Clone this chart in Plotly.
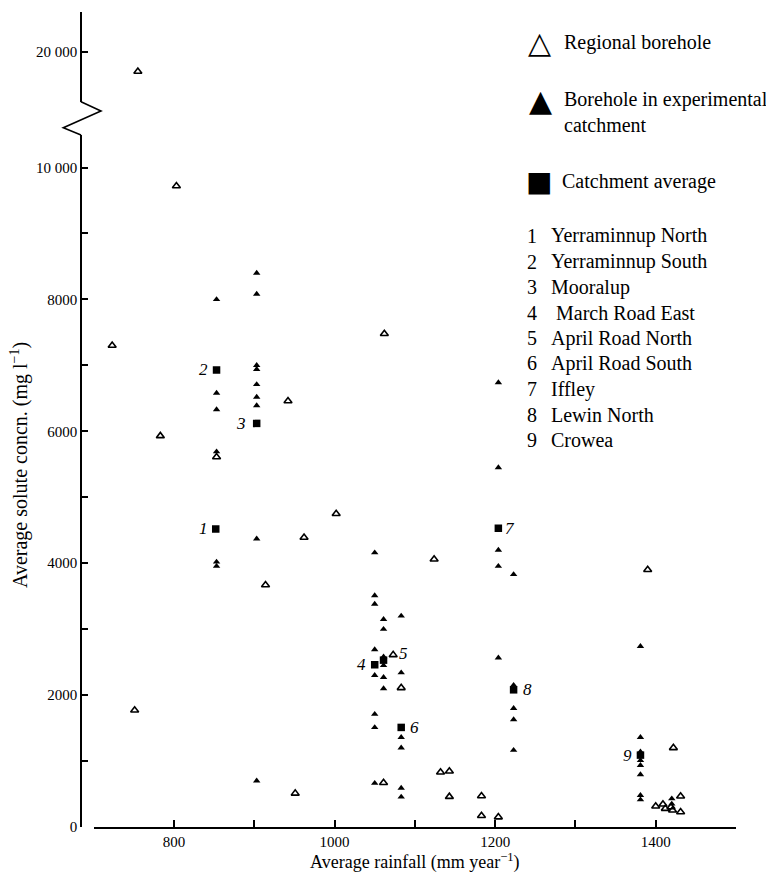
import plotly.graph_objects as go

# ---------------- data ----------------
regional_x = [755, 803, 723, 783, 853, 942, 1002, 962, 914, 751, 951, 1062, 1124,
              1073, 1083, 1061, 1132, 1143, 1143, 1183, 1183, 1204, 1390, 1422,
              1400, 1409, 1412, 1419, 1421, 1431, 1431]
regional_y = [19700, 9720, 7300, 5930, 5610, 6460, 4750, 4390, 3670, 1770, 510, 7480, 4060,
              2610, 2110, 670, 830, 845, 460, 470, 170, 150, 3900, 1200,
              314, 344, 279, 303, 253, 466, 228]

exp_x = [853, 853, 853, 853, 853, 853,
         903, 903, 903, 903, 903, 903, 903, 903, 903,
         1050, 1050, 1050, 1050, 1050, 1050, 1050, 1050,
         1061, 1061, 1061, 1061, 1061, 1061,
         1083, 1083, 1083, 1083, 1083, 1083,
         1204, 1204, 1204, 1204, 1204,
         1223, 1223, 1223, 1223, 1223,
         1381, 1381, 1381, 1381, 1381, 1381, 1381, 1381,
         1420, 1420]
exp_y = [8000, 6580, 6330, 5690, 4020, 3955,
         8400, 8080, 7000, 6940, 6710, 6520, 6390, 4370, 700,
         4160, 3510, 3380, 2690, 2300, 1710, 1510, 665,
         3150, 3000, 2580, 2450, 2270, 2100,
         3200, 2340, 1360, 1200, 590, 455,
         6740, 5450, 4200, 3955, 2565,
         3830, 2150, 1800, 1630, 1165,
         2740, 1360, 1140, 1010, 935, 795, 480, 415,
         430, 350]

avg_labels = ["1", "2", "3", "4", "5", "6", "7", "8", "9"]
avg_x = [852, 853, 903, 1050, 1061, 1083, 1204, 1223, 1381]
avg_y = [4520, 6930, 6120, 2460, 2530, 1510, 4530, 2080, 1090]

site_names = ["Yerraminnup North", "Yerraminnup South", "Mooralup", " March Road East",
              "April Road North", "April Road South", "Iffley", "Lewin North", "Crowea"]

x_tickvals = [700, 800, 900, 1000, 1100, 1200, 1300, 1400, 1500]
x_ticktext = ["", "800", "", "1000", "", "1200", "", "1400", ""]
y_tickvals = [0, 1000, 2000, 3000, 4000, 5000, 6000, 7000, 8000, 9000, 10000]
y_ticktext = ["0", "", "2000", "", "4000", "", "6000", "", "8000", "", "10 000"]
y2_tickvals = [20000]
y2_ticktext = ["20 000"]

BREAK = 15000

# ---------------- layout helpers ----------------
W, H = 774, 879
OFF = 8                      # page body margin of the browser
REF_L, REF_R, REF_T, REF_B = 81, 736, 12, 827   # plot box in the reference picture (px)
ML, MT = REF_L - OFF, REF_T - OFF
MR = W - (REF_R - OFF)
MB = H - (REF_B - OFF)
PW, PH = W - ML - MR, H - MT - MB


def px(x, y):
    """reference-picture pixel -> paper coordinates"""
    return (x - REF_L) / PW, (REF_B - y) / PH


FONT = "Liberation Serif, Times New Roman, serif"
BLACK = "#000000"

low_x = [x for x, y in zip(regional_x, regional_y) if y < BREAK]
low_y = [y for y in regional_y if y < BREAK]
up_x = [x for x, y in zip(regional_x, regional_y) if y >= BREAK]
up_y = [y for y in regional_y if y >= BREAK]

fig = go.Figure()
open_marker = dict(symbol="triangle-up-open", size=7, color=BLACK, line=dict(width=1.6, color=BLACK))
fig.add_trace(go.Scatter(x=low_x, y=low_y, mode="markers", marker=open_marker,
                         xaxis="x", yaxis="y", showlegend=False))
fig.add_trace(go.Scatter(x=up_x, y=up_y, mode="markers", marker=open_marker,
                         xaxis="x", yaxis="y2", showlegend=False))
fig.add_trace(go.Scatter(x=exp_x, y=exp_y, mode="markers",
                         marker=dict(symbol="triangle-up", size=6.5, color=BLACK),
                         xaxis="x", yaxis="y", showlegend=False))
fig.add_trace(go.Scatter(x=avg_x, y=avg_y, mode="markers",
                         marker=dict(symbol="square", size=7.5, color=BLACK),
                         xaxis="x", yaxis="y", showlegend=False))

# --- number labels next to catchment averages ---
label_shift = {"1": (-12, 0), "2": (-13, 0), "3": (-16, 0), "4": (-13, 0), "5": (20, 7),
               "6": (13, 0), "7": (12, 0), "8": (14, 0), "9": (-13, 0)}
annotations = []
for lab, xv, yv in zip(avg_labels, avg_x, avg_y):
    dx, dy = label_shift[lab]
    annotations.append(dict(x=xv, y=yv, xref="x", yref="y", text=f"<i>{lab}</i>",
                            showarrow=False, xshift=dx, yshift=dy,
                            font=dict(family=FONT, size=17, color=BLACK)))


# --- legend (drawn as text) ---
def ann(x, y, text, size=20, xanchor="left", family=FONT, angle=0):
    ax, ay = px(x, y)
    annotations.append(dict(x=ax, y=ay, xref="paper", yref="paper", text=text,
                            showarrow=False, xanchor=xanchor, yanchor="middle", align="left",
                            textangle=angle,
                            font=dict(family=family, size=size, color=BLACK)))


ann(539, 42, "△", size=30, xanchor="center", family="DejaVu Sans")
ann(562, 42, "Regional borehole")
ann(540, 100, "▲", size=30, xanchor="center", family="DejaVu Sans")
ann(562, 112, "Borehole in experimental<br>catchment")
ann(539, 181, "■", size=28, xanchor="center", family="DejaVu Sans")
ann(560, 181, "Catchment average")
for i, name in enumerate(site_names):
    yy = 236 + i * 25.5
    ann(532, yy, str(i + 1), xanchor="center")
    ann(549, yy, name)

# --- y axis title ---
ann(19, 465, "Average solute concn. (mg l<sup>−1</sup>)", size=20, xanchor="center", angle=-90)

# --- axis break zigzag ---
p = [px(81, 101.7), px(101, 111), px(63.3, 127.7), px(81, 135)]
path = "M " + " L ".join(f"{a:.4f},{b:.4f}" for a, b in p)
shapes = [dict(type="path", path=path, xref="paper", yref="paper",
               line=dict(color=BLACK, width=1.6))]

x0_dom = px(93.7, 0)[0]
low_top = px(0, 135)[1]
up_bot = px(0, 101.7)[1]
scale = (REF_B - 167.5) / 10000.0  # px per unit
low_max = (REF_B - 135) / scale
up_top = 20000 + (51.7 - REF_T) / scale
up_min = up_top - (101.7 - REF_T) / scale

axis_common = dict(showgrid=False, zeroline=False, showline=True, linecolor=BLACK,
                   linewidth=1.6, ticks="inside", tickcolor=BLACK, tickwidth=1.5,
                   tickfont=dict(family=FONT, size=15, color=BLACK))

fig.update_layout(
    width=W, height=H,
    margin=dict(l=ML, r=MR, t=MT, b=MB),
    paper_bgcolor="white", plot_bgcolor="white",
    xaxis=dict(range=[700, 1500], domain=[x0_dom, 1], anchor="y",
               tickvals=x_tickvals, ticktext=x_ticktext, ticklen=7,
               title=dict(text="Average rainfall (mm year<sup>−1</sup>)", standoff=6,
                          font=dict(family=FONT, size=18, color=BLACK)),
               **axis_common),
    yaxis=dict(range=[0, low_max], domain=[0, low_top], anchor="free", position=0,
               tickvals=y_tickvals, ticktext=y_ticktext, ticklen=6, **axis_common),
    yaxis2=dict(range=[up_min, up_top], domain=[up_bot, 1], anchor="free", position=0,
                tickvals=y2_tickvals, ticktext=y2_ticktext, ticklen=6, **axis_common),
    annotations=annotations,
    shapes=shapes,
    showlegend=False,
)

fig.write_html("out.html")
